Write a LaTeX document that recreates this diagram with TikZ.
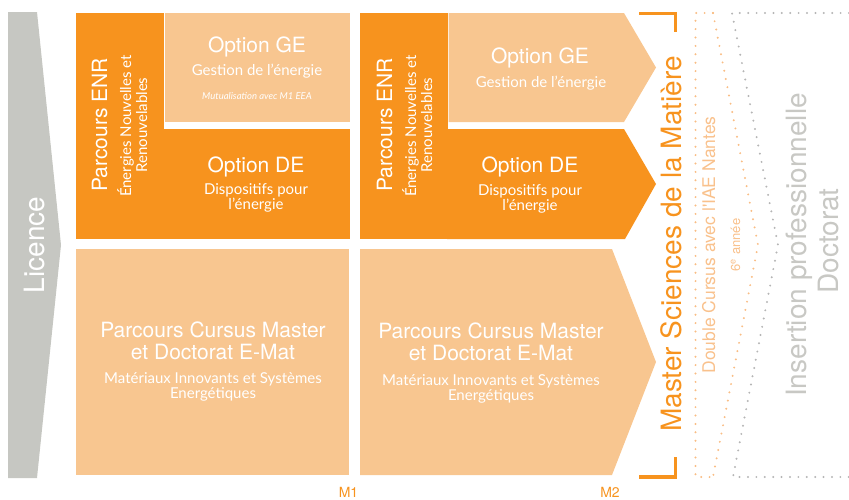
\documentclass[tikz,border=0pt]{standalone}
\usepackage{fontspec}
\setmainfont{Lato}
\newfontfamily\hfont{TeX Gyre Heros}
\definecolor{dorange}{HTML}{F7931E}
\definecolor{lorange}{HTML}{F8C690}
\definecolor{lgrey}{HTML}{C6C7C2}
\definecolor{dotor}{HTML}{F9BD84}
\definecolor{dotgr}{HTML}{B5B5B5}
\definecolor{txtor}{HTML}{F9C18C}
\definecolor{txtgr}{HTML}{C8C8C4}
\tikzset{
  txt/.style={inner sep=0pt, anchor=base, text=white},
  head/.style={txt, font=\hfont\fontsize{21}{21}\selectfont},
  sub/.style={txt, font=\fontsize{15}{15}\selectfont},
  tiny/.style={txt, font=\itshape\fontsize{9.5}{9.5}\selectfont},
  big/.style={inner sep=0pt, anchor=base, rotate=90, font=\hfont\fontsize{28}{28}\selectfont},
  lab/.style={inner sep=0pt, anchor=base, text=dorange, font=\hfont\fontsize{14}{14}\selectfont},
  dotsor/.style={draw=dotor, line width=2.2pt, line cap=round, dash pattern=on 0pt off 8.4pt},
  dotsgr/.style={draw=dotgr, line width=2.2pt, line cap=round, dash pattern=on 0pt off 8.4pt},
}
\begin{document}
\begin{tikzpicture}[x=1pt,y=-1pt]
\useasboundingbox (0,0) rectangle (849,499);
% Licence
\fill[lgrey] (8,12) -- (37,12) -- (61,245) -- (37,478) -- (8,478) -- cycle;
\node[big, text=white] (licence) at (44,245) {Licence};
% M1 blocks
\fill[dorange] (76,13) rectangle (163.5,239);
\fill[dorange] (163,129) rectangle (350,239);
\fill[lorange] (164.5,13) rectangle (350,122);
\fill[lorange] (76,249) rectangle (349,475);
% M2 blocks
\fill[dorange] (360,13) rectangle (448,239);
\fill[lorange] (448.5,13) -- (624,13) -- (656,67.5) -- (624,122) -- (448.5,122) -- cycle;
\fill[dorange] (447,129) -- (624,129) -- (656,184) -- (625,239) -- (447,239) -- cycle;
\fill[lorange] (360,249) -- (612,249) -- (656,362) -- (612,475) -- (360,475) -- cycle;
% M1 texts
\node[head] (ge1) at (257,52) {Option GE};
\node[sub] (ge1s) at (257,75) {Gestion de l’énergie};
\node[tiny] (ge1m) at (257,99) {Mutualisation avec M1 EEA};
\node[head] (de1) at (256,172) {Option DE};
\node[sub] (de1s) at (256,194) {Dispositifs pour};
\node[sub] (de1t) at (256,209) {l’énergie};
\node[head, rotate=90] (enr1) at (107,125) {Parcours ENR};
\node[sub, rotate=90] (enr1s) at (131,126) {Énergies Nouvelles et};
\node[sub, rotate=90] (enr1t) at (147,125) {Renouvelables};
\node[head] (cm1) at (213,337) {Parcours Cursus Master};
\node[head] (cm1b) at (213,359) {et Doctorat E-Mat};
\node[sub] (cm1s) at (213,383) {Matériaux Innovants et Systèmes};
\node[sub] (cm1t) at (213,398) {Energétiques};
% M2 texts
\node[head] (ge2) at (540,63) {Option GE};
\node[sub] (ge2s) at (541,87) {Gestion de l’énergie};
\node[head] (de2) at (530,172) {Option DE};
\node[sub] (de2s) at (530,195) {Dispositifs pour};
\node[sub] (de2t) at (530,210) {l’énergie};
\node[head, rotate=90] (enr2) at (392,125) {Parcours ENR};
\node[sub, rotate=90] (enr2s) at (416,126) {Énergies Nouvelles et};
\node[sub, rotate=90] (enr2t) at (432,125) {Renouvelables};
\node[head] (cm2) at (491,338) {Parcours Cursus Master};
\node[head] (cm2b) at (491,360) {et Doctorat E-Mat};
\node[sub] (cm2s) at (491,385) {Matériaux Innovants et Systèmes};
\node[sub] (cm2t) at (491,400) {Energétiques};
% labels
\node[lab] (m1) at (348.5,497) {M1};
\node[lab] (m2) at (610,497) {M2};
% bracket
\draw[dorange, line width=3.5pt] (639,13.5) -- (675.5,13.5) -- (675.5,32);
\draw[dorange, line width=3.5pt] (639,477) -- (675.5,477) -- (675.5,457);
\node[big, text=dorange] (master) at (681,244) {Master Sciences de la Matière};
% dotted chevrons
\coordinate (ot) at (713,13);
\coordinate (ob) at (713,477);
\coordinate (otip) at (758,245);
\coordinate (gt) at (732,13);
\coordinate (gb) at (733,477);
\coordinate (gtip) at (778,245);
\coordinate (gtr) at (849,13);
\coordinate (gbr) at (849,477);
\draw[dotsor] (ot) -- (695.5,13) -- (695.5,477) -- (ob);
\draw[dotsor] (ot) -- (otip) -- (ob);
\draw[dotsgr] (gtr) -- (gt) -- (gtip) -- (gb) -- (gbr);
\node[inner sep=0pt, anchor=base, rotate=90, text=txtor, font=\hfont\fontsize{17.5}{17.5}\selectfont] (dc) at (715,245) {Double Cursus avec l'IAE Nantes};
\node[inner sep=0pt, anchor=base, rotate=90, text=txtor, font=\hfont\fontsize{13}{13}\selectfont] (six) at (740,245) {6\textsuperscript{e} année};
\node[big, text=txtgr] (ins) at (806,245) {Insertion professionnelle};
\node[big, text=txtgr] (doc) at (838,241) {Doctorat};
\end{tikzpicture}
\end{document}
